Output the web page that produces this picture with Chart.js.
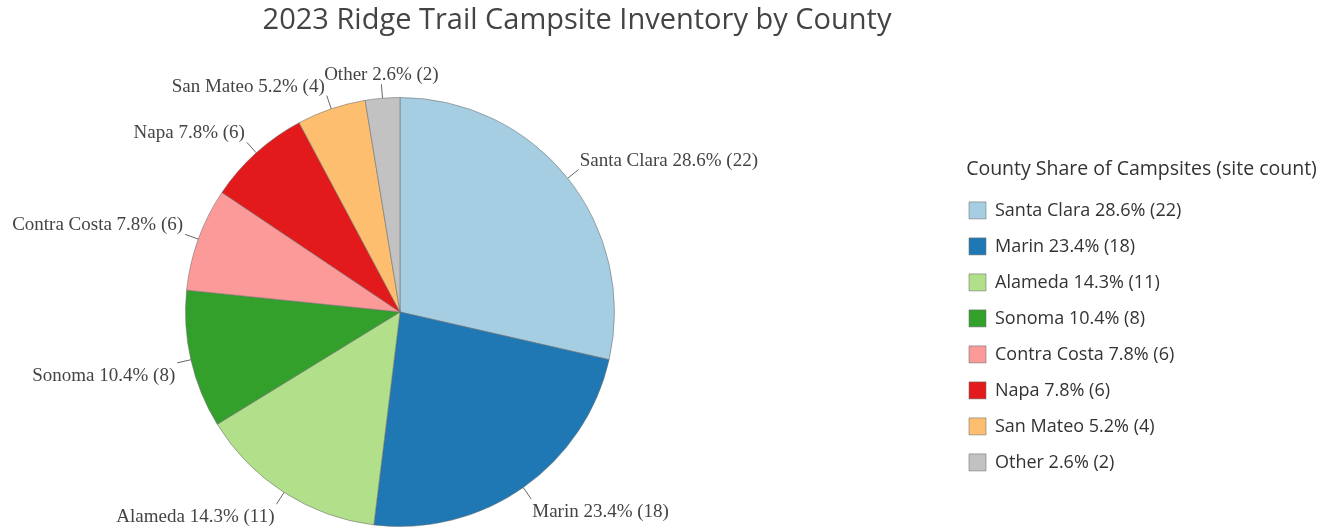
<!DOCTYPE html>
<html>
<head>
<meta charset="utf-8">
<script src="https://cdn.jsdelivr.net/npm/chart.js@4.4.1/dist/chart.umd.min.js"></script>
<style>
  html, body { margin: 0; padding: 0; background: #fff; }
  #wrap { width: 1335px; height: 529px; }
</style>
</head>
<body>
<div id="wrap"><canvas id="pie"></canvas></div>
<script>
const counties = ["Santa Clara", "Marin", "Alameda", "Sonoma", "Contra Costa", "Napa", "San Mateo", "Other"];
const siteCounts = [22, 18, 11, 8, 6, 6, 4, 2];
const sliceColors = ["#a6cee3", "#1f78b4", "#b2df8a", "#33a02c", "#fb9a99", "#e31a1c", "#fdbf6f", "#c2c2c2"];

const total = siteCounts.reduce((a, b) => a + b, 0);
const labels = counties.map((c, i) => c + " " + (siteCounts[i] / total * 100).toFixed(1) + "% (" + siteCounts[i] + ")");

// put the pie, title and legend where the reference has them
const placeBoxes = {
  id: "placeBoxes",
  afterLayout(chart) {
    const a = chart.chartArea;
    a.left = 185; a.right = 615; a.top = 97; a.bottom = 527;
    a.width = a.right - a.left; a.height = a.bottom - a.top;

    chart.titleBlock.left = 0;
    chart.titleBlock.right = 1154;
    chart.titleBlock.width = 1154;

    const lg = chart.legend;
    lg.left = 951; lg.right = 1332; lg.width = lg.right - lg.left;
    lg.top = 160; lg.bottom = 529; lg.height = lg.bottom - lg.top;
  }
};

// outside labels with short leader lines
const outerLabels = {
  id: "outerLabels",
  afterDraw(chart) {
    const ctx = chart.ctx;
    const meta = chart.getDatasetMeta(0);
    ctx.save();
    ctx.font = "19px 'Liberation Serif', 'Times New Roman', serif";
    ctx.fillStyle = "#444";
    ctx.strokeStyle = "#666";
    ctx.lineWidth = 1;
    meta.data.forEach((arc, i) => {
      const p = arc.getProps(["x", "y", "startAngle", "endAngle", "outerRadius"], true);
      const mid = (p.startAngle + p.endAngle) / 2;
      const cos = Math.cos(mid), sin = Math.sin(mid);
      const sx = p.x + cos * p.outerRadius, sy = p.y + sin * p.outerRadius;
      const ex = p.x + cos * (p.outerRadius + 14), ey = p.y + sin * (p.outerRadius + 14);
      ctx.beginPath();
      ctx.moveTo(sx, sy);
      ctx.lineTo(ex, ey);
      ctx.stroke();
      let tx = ex;
      if (Math.abs(cos) < 0.2) ctx.textAlign = "center";
      else if (cos > 0) { ctx.textAlign = "left"; tx = ex + 1; }
      else { ctx.textAlign = "right"; tx = ex - 2; }
      ctx.textBaseline = "middle";
      ctx.fillText(chart.data.labels[i], tx, ey + (sin > 0 ? 13 : -9));
    });
    ctx.restore();
  }
};

new Chart(document.getElementById("pie"), {
  type: "pie",
  data: {
    labels: labels,
    datasets: [{
      data: siteCounts,
      backgroundColor: sliceColors,
      borderColor: "rgba(110,110,110,0.55)",
      borderWidth: 1,
      hoverOffset: 0
    }]
  },
  options: {
    responsive: true,
    maintainAspectRatio: false,
    animation: false,
    events: [],
    plugins: {
      title: {
        display: true,
        text: "2023 Ridge Trail Campsite Inventory by County",
        color: "#444",
        font: { family: "'Open Sans', sans-serif", size: 29, weight: "normal" },
        padding: { top: 3, bottom: 10 }
      },
      legend: {
        display: true,
        position: "right",
        align: "start",
        title: {
          display: true,
          text: "County Share of Campsites (site count)",
          color: "#333",
          position: "center",
          font: { family: "'Open Sans', sans-serif", size: 19.5 },
          padding: { top: 0, bottom: 0 }
        },
        labels: {
          color: "#333",
          font: { family: "'Open Sans', sans-serif", size: 18 },
          boxWidth: 17,
          boxHeight: 17,
          padding: 18
        }
      },
      tooltip: { enabled: false }
    }
  },
  plugins: [placeBoxes, outerLabels]
});
</script>
</body>
</html>
